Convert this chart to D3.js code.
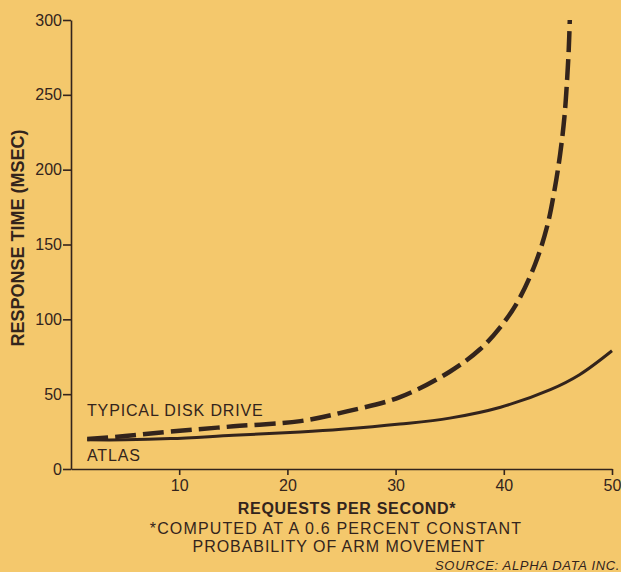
<!DOCTYPE html>
<html>
<head>
<meta charset="utf-8">
<script src="https://cdn.jsdelivr.net/npm/d3@7"></script>
<style>
  html, body { margin: 0; padding: 0; background: #f4c86c; }
  svg { display: block; font-family: "Liberation Sans", Arial, sans-serif; }
  .axis text { fill: #33241c; font-size: 16px; }
  .axis line, .axis path { stroke: #33241c; stroke-width: 1.6; }
</style>
</head>
<body>
<div id="chart"></div>
<script>
// requests per second (x) vs response time in msec (y)
const diskX = [1.5, 5, 9.2, 15, 21.2, 25.5, 30.4, 35, 37.8, 39.7, 41.3, 42.9, 44, 44.7, 45.2, 45.6, 45.85, 46.0, 46.1];
const diskY = [20, 22, 25, 28.5, 32, 38.5, 48, 65, 80, 95, 112, 137, 162, 187, 210, 235, 260, 280, 300];
const atlasX = [1.5, 5, 9.2, 15, 21.2, 25, 30.4, 35, 39.7, 44.3, 47, 50];
const atlasY = [19.5, 19.5, 20.3, 22.5, 24.7, 26.5, 30, 34, 41.3, 53, 63, 79];
const xTicks = [10, 20, 30, 40, 50];
const yTicks = [0, 50, 100, 150, 200, 250, 300];

const width = 621, height = 572;
const ink = "#33241c";

const svg = d3.select("#chart").append("svg")
  .attr("width", width)
  .attr("height", height);

svg.append("rect").attr("width", width).attr("height", height).attr("fill", "#f4c86c");

const x = d3.scaleLinear().domain([0, 50]).range([71, 612]);
const y = d3.scaleLinear().domain([0, 300]).range([469, 20]);

svg.append("g")
  .attr("class", "axis")
  .attr("transform", "translate(0," + y(0) + ")")
  .call(d3.axisBottom(x).tickValues(xTicks).tickSize(6).tickSizeOuter(0).tickPadding(5));

svg.append("g")
  .attr("class", "axis")
  .attr("transform", "translate(" + x(0) + ",0)")
  .call(d3.axisLeft(y).tickValues(yTicks).tickSize(8).tickSizeOuter(0).tickPadding(1));

const line = d3.line()
  .x(function(d) { return x(d[0]); })
  .y(function(d) { return y(d[1]); })
  .curve(d3.curveCatmullRom.alpha(0.5));

svg.append("path")
  .datum(d3.zip(atlasX, atlasY))
  .attr("d", line)
  .attr("fill", "none")
  .attr("stroke", ink)
  .attr("stroke-width", 3);

svg.append("path")
  .datum(d3.zip(diskX, diskY))
  .attr("d", line)
  .attr("fill", "none")
  .attr("stroke", ink)
  .attr("stroke-width", 4.5)
  .attr("stroke-dasharray", "21,7");

// series labels
svg.append("text").attr("x", 87).attr("y", 416)
  .attr("font-size", 16).attr("letter-spacing", 0.85).attr("fill", ink).text("TYPICAL DISK DRIVE");
svg.append("text").attr("x", 87).attr("y", 461)
  .attr("font-size", 16).attr("letter-spacing", 0.85).attr("fill", ink).text("ATLAS");

// axis titles
svg.append("text")
  .attr("transform", "translate(24,238) rotate(-90)")
  .attr("text-anchor", "middle")
  .attr("font-size", 18).attr("font-weight", "bold").attr("fill", ink)
  .text("RESPONSE TIME (MSEC)");

svg.append("text").attr("x", 347).attr("y", 514)
  .attr("text-anchor", "middle")
  .attr("font-size", 16).attr("letter-spacing", 0.7).attr("font-weight", "bold").attr("fill", ink)
  .text("REQUESTS PER SECOND*");

svg.append("text").attr("x", 336).attr("y", 534)
  .attr("text-anchor", "middle")
  .attr("font-size", 16).attr("letter-spacing", 1.15).attr("fill", ink)
  .text("*COMPUTED AT A 0.6 PERCENT CONSTANT");

svg.append("text").attr("x", 339).attr("y", 552)
  .attr("text-anchor", "middle")
  .attr("font-size", 16).attr("letter-spacing", 0.95).attr("fill", ink)
  .text("PROBABILITY OF ARM MOVEMENT");

svg.append("text").attr("x", 620).attr("y", 570)
  .attr("text-anchor", "end")
  .attr("font-size", 13).attr("letter-spacing", 0.65).attr("font-style", "italic").attr("fill", ink)
  .text("SOURCE: ALPHA DATA INC.");
</script>
</body>
</html>
